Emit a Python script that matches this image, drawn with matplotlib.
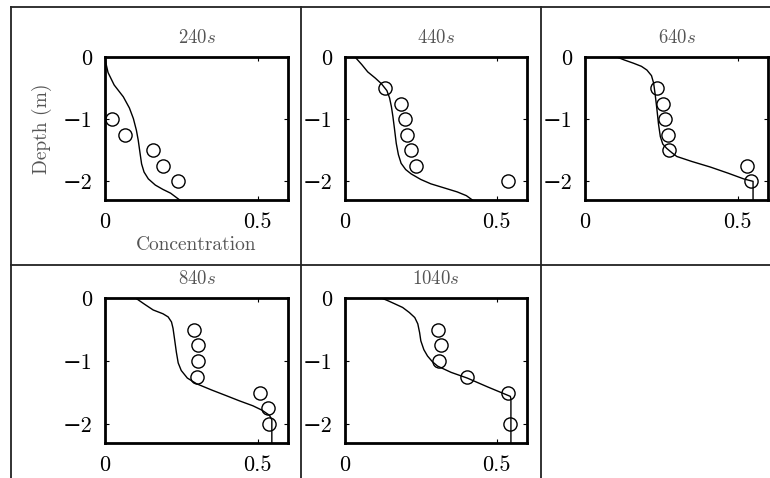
import matplotlib
matplotlib.use("Agg")
import matplotlib.pyplot as plt
from matplotlib.lines import Line2D

plt.rcParams['font.family'] = ['cmr10', 'DejaVu Serif']
plt.rcParams['mathtext.fontset'] = 'cm'
plt.rcParams['axes.formatter.use_mathtext'] = True

times = ["240", "440", "640", "840", "1040"]

obs_x_240 = [0.024, 0.067, 0.156, 0.189, 0.238]
obs_y_240 = [-1.0, -1.25, -1.5, -1.75, -2.0]
mod_x_240 = [0.0, 0.003, 0.01, 0.03, 0.06, 0.08, 0.093, 0.103, 0.109, 0.115, 0.12, 0.128,
             0.142, 0.165, 0.19, 0.215, 0.245]
mod_y_240 = [0.0, -0.1, -0.25, -0.45, -0.64, -0.82, -0.99, -1.18, -1.34, -1.55, -1.72, -1.85,
             -1.96, -2.06, -2.13, -2.19, -2.3]

obs_x_440 = [0.131, 0.186, 0.198, 0.205, 0.216, 0.235, 0.539]
obs_y_440 = [-0.5, -0.75, -1.0, -1.25, -1.5, -1.75, -2.0]
mod_x_440 = [0.033, 0.055, 0.075, 0.1, 0.12, 0.138, 0.147, 0.153, 0.158, 0.163, 0.169, 0.176,
             0.185, 0.2, 0.218, 0.25, 0.283, 0.33, 0.37, 0.4, 0.42]
mod_y_440 = [0.0, -0.12, -0.24, -0.34, -0.43, -0.54, -0.66, -0.8, -0.96, -1.15, -1.39, -1.57,
             -1.71, -1.81, -1.88, -1.97, -2.04, -2.11, -2.17, -2.23, -2.3]

obs_x_640 = [0.236, 0.255, 0.263, 0.271, 0.277, 0.53, 0.543]
obs_y_640 = [-0.5, -0.75, -1.0, -1.25, -1.5, -1.75, -2.0]
mod_x_640 = [0.104, 0.13, 0.159, 0.185, 0.203, 0.218, 0.225, 0.23, 0.236, 0.241, 0.247, 0.255,
             0.268, 0.285, 0.301, 0.35, 0.411, 0.47, 0.52, 0.551, 0.551]
mod_y_640 = [0.0, -0.05, -0.1, -0.15, -0.21, -0.3, -0.42, -0.6, -0.85, -1.08, -1.28, -1.4,
             -1.47, -1.54, -1.6, -1.68, -1.77, -1.87, -1.96, -2.0, -2.3]

obs_x_840 = [0.291, 0.305, 0.305, 0.3, 0.507, 0.534, 0.539]
obs_y_840 = [-0.5, -0.75, -1.0, -1.25, -1.5, -1.75, -2.0]
mod_x_840 = [0.1, 0.13, 0.158, 0.19, 0.207, 0.218, 0.223, 0.228, 0.234, 0.24, 0.25, 0.27,
             0.3, 0.35, 0.398, 0.44, 0.485, 0.515, 0.539, 0.547, 0.547]
mod_y_840 = [0.0, -0.1, -0.19, -0.25, -0.3, -0.38, -0.48, -0.65, -0.86, -1.03, -1.15, -1.27,
             -1.36, -1.46, -1.55, -1.63, -1.71, -1.78, -1.86, -1.93, -2.3]

obs_x_1040 = [0.308, 0.316, 0.31, 0.403, 0.536, 0.543]
obs_y_1040 = [-0.5, -0.75, -1.0, -1.25, -1.5, -2.0]
mod_x_1040 = [0.12, 0.14, 0.163, 0.19, 0.212, 0.23, 0.24, 0.246, 0.25, 0.26, 0.272, 0.288,
              0.305, 0.35, 0.403, 0.47, 0.545, 0.547, 0.547]
mod_y_1040 = [0.0, -0.04, -0.09, -0.15, -0.23, -0.31, -0.41, -0.55, -0.68, -0.82, -0.92, -1.01,
              -1.08, -1.18, -1.27, -1.41, -1.56, -1.6, -2.3]

x_ticks = [0, 0.5]
x_tick_labels = ["0", "0.5"]
y_ticks = [0, -1, -2]
y_tick_labels = ["0", "−1", "−2"]

panels = [
    (obs_x_240, obs_y_240, mod_x_240, mod_y_240),
    (obs_x_440, obs_y_440, mod_x_440, mod_y_440),
    (obs_x_640, obs_y_640, mod_x_640, mod_y_640),
    (obs_x_840, obs_y_840, mod_x_840, mod_y_840),
    (obs_x_1040, obs_y_1040, mod_x_1040, mod_y_1040),
]

W, H = 770, 478
fig = plt.figure(figsize=(W / 100, H / 100), dpi=100)

col_px = [(105, 288), (345, 527), (585, 768)]
row_px = [(57, 200), (298, 443)]

label_color = '#555555'

for i, (ox, oy, mx, my) in enumerate(panels):
    r, c = divmod(i, 3)
    x0, x1 = col_px[c]
    y0, y1 = row_px[r]
    ax = fig.add_axes([x0 / W, (H - y1) / H, (x1 - x0) / W, (y1 - y0) / H])
    ax.plot(mx, my, color='black', lw=1.0, clip_on=True)
    ax.plot(ox, oy, linestyle='none', marker='o', markersize=9.5,
            markerfacecolor='none', markeredgecolor='black', markeredgewidth=1.0)
    ax.set_xlim(0, 0.6)
    ax.set_ylim(-2.3, 0)
    ax.set_xticks(x_ticks)
    ax.set_xticklabels(x_tick_labels)
    ax.set_yticks(y_ticks)
    ax.set_yticklabels(y_tick_labels)
    ax.tick_params(direction='in', length=3, width=0.8, top=True, right=True,
                   labelsize=16, pad=9, colors='black')
    for s in ax.spines.values():
        s.set_linewidth(2.0)
    ax.set_title(times[i] + r"$s$", fontsize=13.5, color=label_color, pad=10)
    if i == 0:
        ax.set_xlabel("Concentration", fontsize=14, color=label_color, labelpad=3)
        ax.set_ylabel("Depth (m)", fontsize=14, color=label_color, labelpad=8)

# table grid lines
def fline(xa, ya, xb, yb):
    fig.add_artist(Line2D([xa / W, xb / W], [(H - ya) / H, (H - yb) / H],
                          color='#222222', lw=1.3, transform=fig.transFigure))

fline(11, 7, 770, 7)
fline(11, 265, 770, 265)
fline(11, 7, 11, 478)
fline(301, 7, 301, 478)
fline(541, 7, 541, 478)

fig.savefig("out.png", dpi=100)
